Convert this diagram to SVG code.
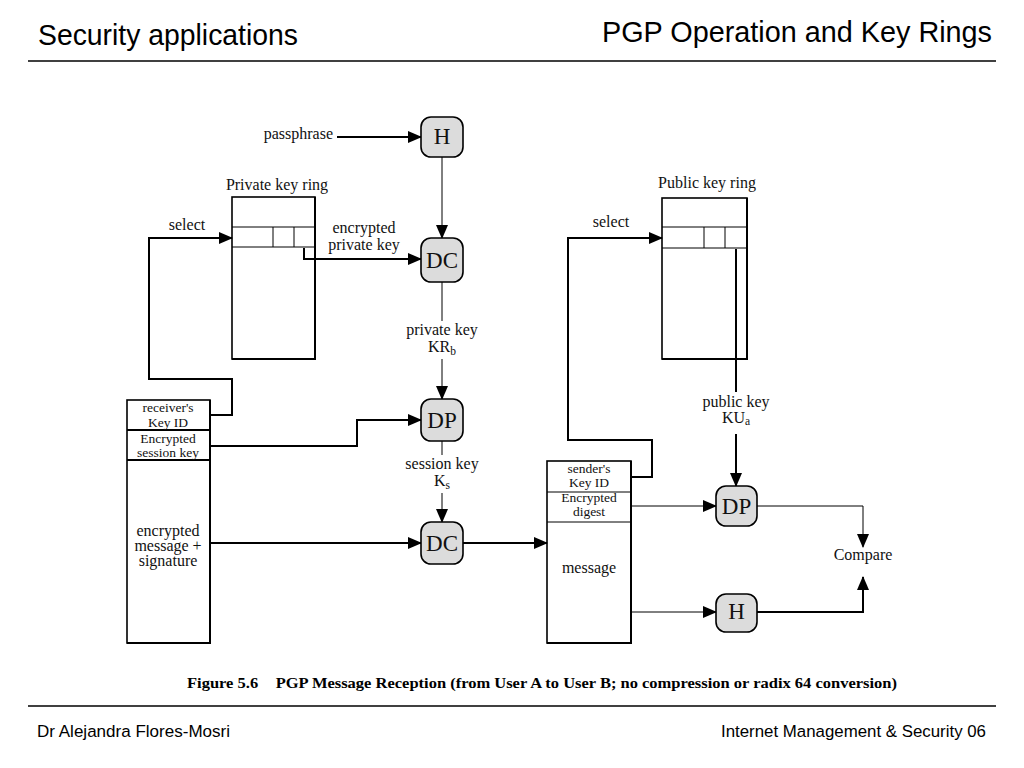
<svg xmlns="http://www.w3.org/2000/svg" width="1024" height="768" viewBox="0 0 1024 768">
<defs>
<marker id="arr" markerUnits="userSpaceOnUse" markerWidth="14" markerHeight="12" refX="13" refY="6" orient="auto">
<path d="M0,0 L14,6 L0,12 Z" fill="#000"/>
</marker>
<style>
.hdr{font-family:"Liberation Sans",Arial,sans-serif;font-size:29px;fill:#000}
.ftr{font-family:"Liberation Sans",Arial,sans-serif;font-size:16.8px;fill:#000}
.lbl{font-family:"Liberation Serif","Times New Roman",serif;font-size:16px;fill:#111;text-anchor:middle}
.sm{font-family:"Liberation Serif","Times New Roman",serif;font-size:13.5px;fill:#111;text-anchor:middle}
.nt{font-family:"Liberation Serif","Times New Roman",serif;font-size:23px;fill:#111;text-anchor:middle}
.node{fill:#dcdcdc;stroke:#000;stroke-width:1.6}
.box{fill:#fff;stroke:#000;stroke-width:1.6}
.thin{fill:none;stroke:#000;stroke-width:1}
.thick{fill:none;stroke:#000;stroke-width:2}
.cap{font-family:"Liberation Serif","Times New Roman",serif;font-size:15px;font-weight:bold;fill:#000}
</style>
</defs>
<rect width="1024" height="768" fill="#fff"/>

<g id="header">
<text class="hdr" x="38" y="45" textLength="260" lengthAdjust="spacingAndGlyphs">Security applications</text>
<text class="hdr" x="602" y="42" textLength="390" lengthAdjust="spacingAndGlyphs">PGP Operation and Key Rings</text>
<line x1="28" y1="61" x2="996" y2="61" stroke="#000" stroke-width="1.5"/>
</g>

<g id="footer">
<line x1="28" y1="706" x2="996" y2="706" stroke="#000" stroke-width="1.5"/>
<text class="ftr" x="37" y="737" textLength="193" lengthAdjust="spacingAndGlyphs">Dr Alejandra Flores-Mosri</text>
<text class="ftr" x="721" y="737" textLength="265" lengthAdjust="spacingAndGlyphs">Internet Management &amp; Security 06</text>
</g>

<g id="private-key-ring">
<text class="lbl" x="277" y="190">Private key ring</text>
<rect class="box" x="232" y="197" width="83" height="162"/>
<line class="thick" x1="315" y1="197" x2="315" y2="359"/>
<line class="thick" x1="232" y1="359" x2="316" y2="359"/>
<line class="thin" x1="232" y1="227" x2="315" y2="227"/>
<line class="thin" x1="232" y1="247" x2="315" y2="247"/>
<line class="thin" x1="273" y1="227" x2="273" y2="247"/>
<line class="thin" x1="294" y1="227" x2="294" y2="247"/>
</g>

<g id="public-key-ring">
<text class="lbl" x="707" y="188">Public key ring</text>
<rect class="box" x="662" y="198" width="85" height="161"/>
<line class="thick" x1="747" y1="198" x2="747" y2="359"/>
<line class="thick" x1="662" y1="359" x2="748" y2="359"/>
<line class="thin" x1="662" y1="227" x2="747" y2="227"/>
<line class="thin" x1="662" y1="248" x2="747" y2="248"/>
<line class="thin" x1="704" y1="227" x2="704" y2="248"/>
<line class="thin" x1="725" y1="227" x2="725" y2="248"/>
</g>

<g id="received-message">
<rect class="box" x="127" y="400" width="83" height="243"/>
<line class="thick" x1="210" y1="400" x2="210" y2="643"/>
<line class="thick" x1="127" y1="643" x2="211" y2="643"/>
<line class="thick" x1="127" y1="430" x2="210" y2="430"/>
<line class="thick" x1="127" y1="460" x2="210" y2="460"/>
<text class="sm" x="168" y="412">receiver's</text>
<text class="sm" x="168" y="427">Key ID</text>
<text class="sm" x="168" y="443">Encrypted</text>
<text class="sm" x="168" y="457">session key</text>
<text class="lbl" x="168" y="536" font-size="16.5">encrypted</text>
<text class="lbl" x="168" y="551" font-size="16.5">message +</text>
<text class="lbl" x="168" y="566" font-size="16.5">signature</text>
</g>

<g id="decrypted-message">
<rect class="box" x="547" y="461" width="84" height="182"/>
<line class="thick" x1="631" y1="461" x2="631" y2="643"/>
<line class="thick" x1="547" y1="643" x2="632" y2="643"/>
<line class="thin" x1="547" y1="492" x2="631" y2="492"/>
<line class="thin" x1="547" y1="522" x2="631" y2="522"/>
<text class="sm" x="589" y="473">sender's</text>
<text class="sm" x="589" y="487">Key ID</text>
<text class="sm" x="589" y="502">Encrypted</text>
<text class="sm" x="589" y="516">digest</text>
<text class="lbl" x="589" y="573" font-size="16.5">message</text>
</g>

<g id="connectors">
<line class="thick" x1="337" y1="137" x2="421" y2="137" marker-end="url(#arr)"/>
<line class="thin" x1="442" y1="157" x2="442" y2="238" marker-end="url(#arr)"/>
<polyline class="thick" points="304,248 304,259 421,259" marker-end="url(#arr)"/>
<line class="thin" x1="442" y1="282" x2="442" y2="321"/>
<line class="thin" x1="442" y1="359" x2="442" y2="399" marker-end="url(#arr)"/>
<polyline class="thick" points="210,446 357,446 357,420 421,420" marker-end="url(#arr)"/>
<line class="thin" x1="442" y1="441" x2="442" y2="455"/>
<line class="thin" x1="442" y1="493" x2="442" y2="522" marker-end="url(#arr)"/>
<line class="thick" x1="210" y1="543" x2="421" y2="543" marker-end="url(#arr)"/>
<line class="thick" x1="463" y1="543" x2="547" y2="543" marker-end="url(#arr)"/>
<polyline class="thick" points="210,415 232,415 232,379 149,379 149,238 232,238" marker-end="url(#arr)"/>
<polyline class="thick" points="631,477 652,477 652,440 568,440 568,238 662,238" marker-end="url(#arr)"/>
<line class="thick" x1="736" y1="249" x2="736" y2="392"/>
<line class="thick" x1="736" y1="434" x2="736" y2="486" marker-end="url(#arr)"/>
<line class="thin" x1="631" y1="506" x2="716" y2="506" marker-end="url(#arr)"/>
<polyline class="thin" points="757,506 863,506 863,547" marker-end="url(#arr)"/>
<line class="thin" x1="631" y1="612" x2="716" y2="612" marker-end="url(#arr)"/>
<polyline class="thick" points="757,612 863,612 863,577" marker-end="url(#arr)"/>
</g>

<g id="labels">
<text class="lbl" x="333" y="139" style="text-anchor:end">passphrase</text>
<text class="lbl" x="187" y="230">select</text>
<text class="lbl" x="364" y="233">encrypted</text>
<text class="lbl" x="364" y="250">private key</text>
<text class="lbl" x="442" y="335">private key</text>
<text class="lbl" x="442" y="352">KR<tspan font-size="11.5" dy="3">b</tspan></text>
<text class="lbl" x="442" y="469">session key</text>
<text class="lbl" x="442" y="486">K<tspan font-size="11.5" dy="3">s</tspan></text>
<text class="lbl" x="611" y="227">select</text>
<text class="lbl" x="736" y="407">public key</text>
<text class="lbl" x="736" y="423">KU<tspan font-size="11.5" dy="2">a</tspan></text>
<text class="lbl" x="863" y="560">Compare</text>
</g>

<g id="H1"><rect class="node" x="421" y="117" width="42" height="40" rx="10"/><text class="nt" x="442" y="144" font-size="18">H</text></g>
<g id="DC1"><rect class="node" x="421" y="238" width="42" height="44" rx="10"/><text class="nt" x="442" y="268">DC</text></g>
<g id="DP1"><rect class="node" x="421" y="399" width="42" height="42" rx="10"/><text class="nt" x="442" y="428">DP</text></g>
<g id="DC2"><rect class="node" x="421" y="522" width="42" height="42" rx="10"/><text class="nt" x="442" y="551">DC</text></g>
<g id="DP2"><rect class="node" x="716" y="486" width="41" height="40" rx="10"/><text class="nt" x="736.5" y="514">DP</text></g>
<g id="H2"><rect class="node" x="716" y="594" width="41" height="38" rx="10"/><text class="nt" x="736.5" y="619" font-size="18">H</text></g>

<g id="caption">
<text class="cap" x="187" y="688" textLength="710" lengthAdjust="spacingAndGlyphs">Figure 5.6<tspan dx="16">PGP Message Reception (from User A to User B; no compression or radix 64 conversion)</tspan></text>
</g>
</svg>
